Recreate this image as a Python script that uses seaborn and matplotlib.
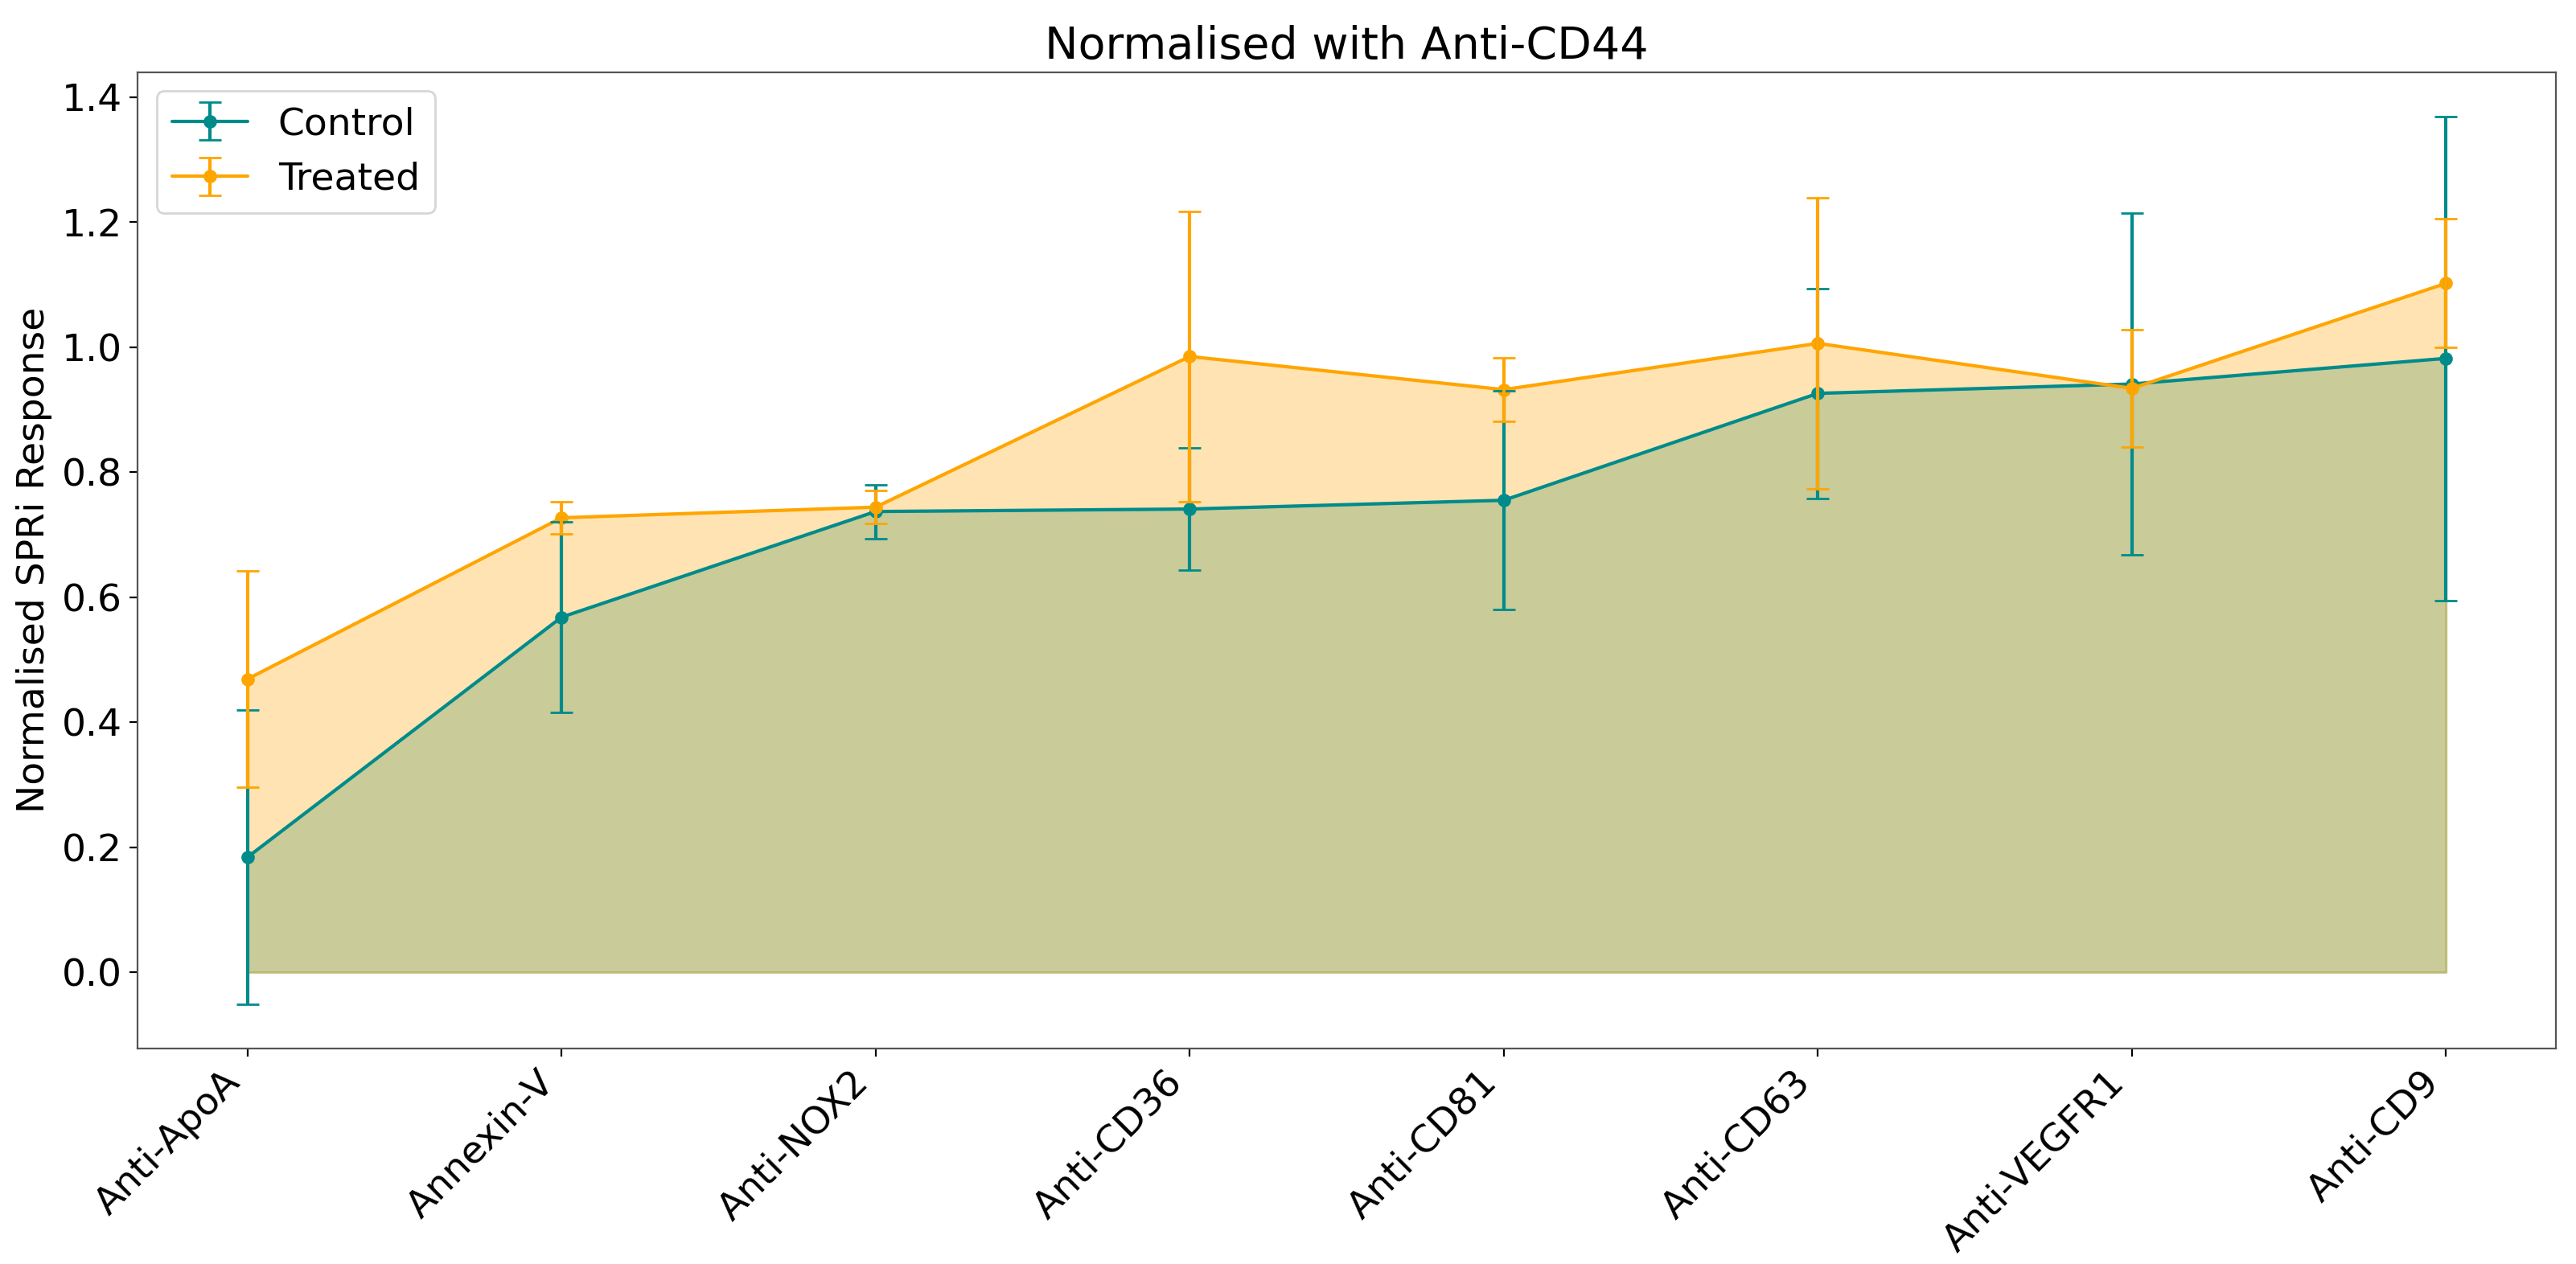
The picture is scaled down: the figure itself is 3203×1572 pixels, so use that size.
import numpy as np
import pandas as pd
import matplotlib
matplotlib.use("Agg")
import matplotlib.pyplot as plt
import seaborn as sns
from matplotlib.legend_handler import HandlerTuple

antibodies = ["Anti-ApoA", "Annexin-V", "Anti-NOX2", "Anti-CD36",
              "Anti-CD81", "Anti-CD63", "Anti-VEGFR1", "Anti-CD9"]
control_mean = [0.184, 0.568, 0.737, 0.741, 0.755, 0.926, 0.941, 0.982]
control_err = [0.235, 0.152, 0.043, 0.098, 0.175, 0.168, 0.273, 0.387]
treated_mean = [0.469, 0.727, 0.744, 0.985, 0.932, 1.006, 0.934, 1.102]
treated_err = [0.173, 0.026, 0.026, 0.232, 0.051, 0.233, 0.094, 0.103]

ctrl_col = "darkcyan"
trt_col = "orange"

df = pd.DataFrame({
    "antibody": antibodies * 2,
    "response": control_mean + treated_mean,
    "group": ["Control"] * len(antibodies) + ["Treated"] * len(antibodies),
})

sns.set_style("ticks")
plt.rcParams["font.family"] = ["DejaVu Sans"]
plt.rcParams["text.color"] = "black"
plt.rcParams["axes.labelcolor"] = "black"
plt.rcParams["xtick.color"] = "black"
plt.rcParams["ytick.color"] = "black"

fig, ax = plt.subplots(figsize=(16.015, 7.86), dpi=200)
fig.subplots_adjust(left=0.0534, right=0.9922, top=0.943, bottom=0.1705)

sns.lineplot(data=df, x="antibody", y="response", hue="group",
             palette={"Control": ctrl_col, "Treated": trt_col},
             marker="o", markersize=6, markeredgewidth=0, linewidth=1.5,
             sort=False, errorbar=None, legend=False, ax=ax)
lines = ax.get_lines()

eb_c = ax.errorbar(antibodies, control_mean, yerr=control_err, fmt="none",
                   ecolor=ctrl_col, capsize=5, elinewidth=1.5)
eb_t = ax.errorbar(antibodies, treated_mean, yerr=treated_err, fmt="none",
                   ecolor=trt_col, capsize=5, elinewidth=1.5)

ax.fill_between(antibodies, control_mean, color=ctrl_col, alpha=0.3)
ax.fill_between(antibodies, treated_mean, color=trt_col, alpha=0.3)

ax.legend([(lines[0], eb_c), (lines[1], eb_t)], ["Control", "Treated"],
          handler_map={tuple: HandlerTuple(ndivide=1, pad=0)},
          loc="upper left", fontsize=17)

for s in ax.spines.values():
    s.set_color("#555555")

ax.set_title("Normalised with Anti-CD44", fontsize=20)
ax.set_xlabel("")
ax.set_ylabel("Normalised SPRi Response", fontsize=17)
ax.tick_params(axis="both", labelsize=17)
plt.setp(ax.get_xticklabels(), rotation=45, ha="right")

fig.savefig("out.png", dpi=200)
